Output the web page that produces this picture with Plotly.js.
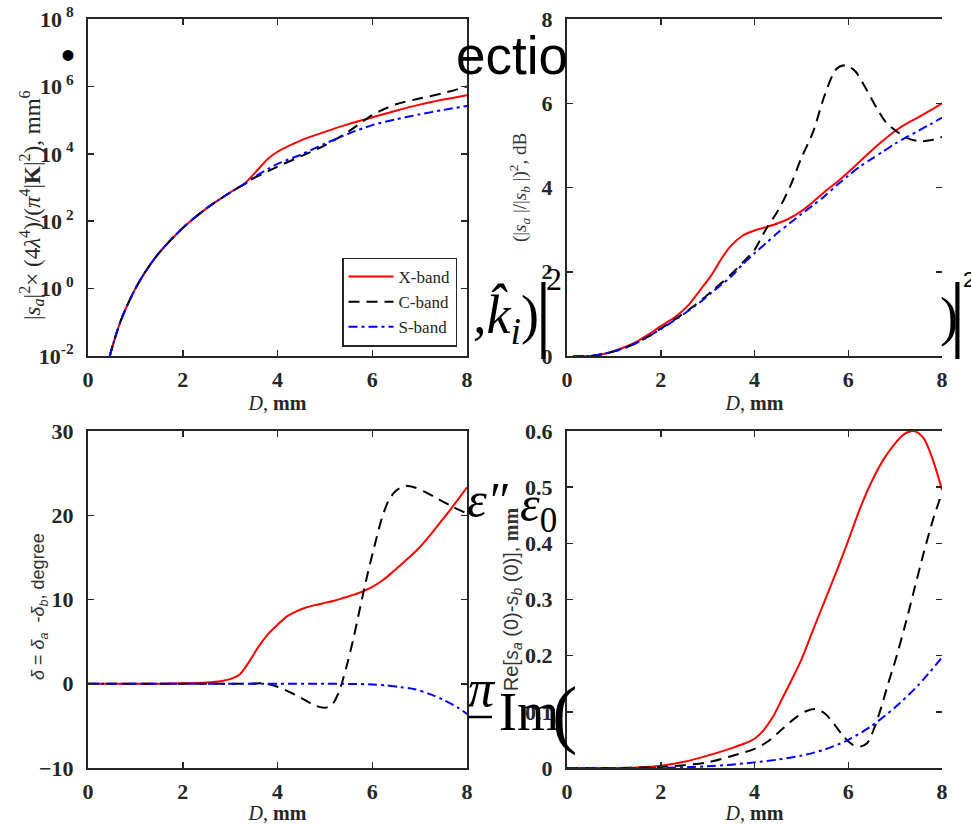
<!DOCTYPE html>
<html><head><meta charset="utf-8">
<script src="https://cdn.plot.ly/plotly-3.0.1.min.js"></script>
<style>html,body{margin:0;padding:0;background:#fff}#chart{width:971px;height:824px}</style>
</head><body><div id="chart"></div>
<script>
// ---------- (a) normalized backscatter magnitude, log scale ----------
const dA = [0.46,0.5,0.6,0.7,0.8,1.0,1.2,1.5,2.0,2.5,3.0,3.3,3.5,3.8,4.0,4.5,5.0,5.5,6.0,6.5,7.0,7.5,8.0];
const yA_X = [0.01,0.016,0.047,0.12,0.26,1.0,3.0,11.5,63,240,710,1300,2500,7100,11500,25100,44700,75900,120000,190500,288000,407000,550000];
const yA_C = [0.01,0.016,0.047,0.12,0.26,1.0,3.0,11.5,63,240,710,1260,1900,3020,4170,8510,17800,45700,141000,295000,437000,631000,1000000];
const yA_S = [0.01,0.016,0.047,0.12,0.26,1.0,3.0,11.5,63,240,710,1260,2000,3550,5010,9550,20000,39800,70800,105000,148000,200000,263000];

// ---------- (b) differential reflectivity, dB ----------
const dB_XS = [0.13,0.5,0.75,1,1.25,1.5,1.75,2,2.3,2.6,2.9,3.1,3.3,3.5,3.75,4.0,4.25,4.5,4.75,5.0,5.25,5.5,5.75,6.0,6.25,6.5,6.75,7.0,7.25,7.5,7.75,8.0];
const yB_X = [0,0,0.04,0.12,0.22,0.35,0.52,0.71,0.92,1.22,1.65,1.95,2.32,2.62,2.86,2.98,3.06,3.15,3.27,3.44,3.66,3.9,4.12,4.36,4.62,4.88,5.12,5.34,5.52,5.67,5.83,6.0];
const yB_S = [0,0,0.04,0.11,0.2,0.32,0.47,0.64,0.85,1.08,1.33,1.52,1.7,1.88,2.18,2.44,2.68,2.93,3.15,3.37,3.58,3.8,4.05,4.28,4.5,4.68,4.86,5.04,5.2,5.35,5.5,5.66];
const dB_C = [0.13,0.5,0.75,1,1.25,1.5,1.75,2,2.3,2.6,2.9,3.1,3.3,3.5,3.75,4.0,4.25,4.5,4.75,5.0,5.25,5.5,5.75,5.95,6.15,6.4,6.6,6.8,7.0,7.25,7.5,7.75,8.0];
const yB_C = [0,0,0.04,0.11,0.2,0.32,0.47,0.65,0.87,1.1,1.36,1.55,1.74,1.94,2.22,2.52,3.02,3.45,4.0,4.7,5.32,6.2,6.82,6.9,6.76,6.3,5.9,5.55,5.36,5.18,5.1,5.12,5.2];

// ---------- (c) backscatter differential phase, degree ----------
const dC_X = [0,0.5,1,1.5,2,2.5,2.8,3.0,3.2,3.4,3.6,3.8,4.0,4.2,4.4,4.6,4.8,5.0,5.2,5.4,5.6,5.8,6.0,6.2,6.4,6.6,6.8,7.0,7.2,7.4,7.6,7.8,8.0];
const yC_X = [0,0,0,0,0.05,0.15,0.3,0.55,1.1,2.6,4.4,5.9,7.0,8.0,8.6,9.05,9.35,9.6,9.85,10.2,10.55,10.95,11.5,12.2,13.1,14.1,15.1,16.2,17.5,18.9,20.3,21.8,23.3];
const dC_C = [0,0.5,1,1.5,2,2.5,3.0,3.4,3.7,4.0,4.3,4.6,4.8,5.0,5.15,5.3,5.45,5.6,5.75,5.9,6.05,6.2,6.35,6.5,6.7,6.9,7.1,7.3,7.5,7.7,8.0];
const yC_C = [0,0,0,0,0,0,0,0,0.05,-0.35,-1.1,-2.0,-2.6,-2.85,-2.5,-0.9,1.9,5.3,9.2,13.0,16.4,19.6,21.8,22.9,23.5,23.3,22.8,22.2,21.6,21.0,20.2];
const dC_S = [0,1,2,3,4,5,5.5,6.0,6.3,6.6,6.9,7.2,7.5,7.8,8.0];
const yC_S = [0,0,0,0,0,0,-0.02,-0.08,-0.2,-0.4,-0.65,-1.2,-1.9,-2.8,-3.6];

// ---------- (d) Re[sa(0)-sb(0)], mm ----------
const dD_X = [0,0.5,1,1.5,2,2.5,3,3.5,3.8,4.0,4.2,4.4,4.6,4.8,5.0,5.25,5.5,5.75,6.0,6.25,6.5,6.75,7.0,7.2,7.4,7.6,7.8,8.0];
const yD_X = [0,0,0,0.001,0.004,0.011,0.022,0.035,0.044,0.052,0.068,0.092,0.125,0.158,0.193,0.246,0.298,0.35,0.405,0.462,0.51,0.549,0.578,0.595,0.6,0.588,0.55,0.495];
const dD_C = [0,1,2,2.5,3,3.5,4.0,4.3,4.6,4.9,5.1,5.3,5.5,5.7,5.9,6.1,6.25,6.4,6.55,6.7,6.85,7.0,7.2,7.4,7.6,7.8,8.0];
const yD_C = [0,0,0.002,0.005,0.01,0.021,0.034,0.048,0.07,0.091,0.101,0.105,0.097,0.078,0.056,0.041,0.038,0.044,0.07,0.107,0.15,0.19,0.25,0.315,0.38,0.44,0.49];
const dD_S = [0,1,2,3,3.5,4.0,4.5,5.0,5.5,6.0,6.5,7.0,7.5,8.0];
const yD_S = [0,0,0,0.003,0.006,0.01,0.015,0.022,0.033,0.05,0.075,0.108,0.148,0.197];

// ---------- ticks / labels ----------
const seriesNames = ['X-band','C-band','S-band'];
const xTicks = [0,2,4,6,8];
const yTicksA = [0.01,1,100,1e4,1e6,1e8];
const yTextA = ['10<sup>-2</sup>','10<sup> 0</sup>','10<sup> 2</sup>','10<sup> 4</sup>','10<sup> 6</sup>','10<sup> 8</sup>'];
const yTicksB = [0,2,4,6,8];
const yTicksC = [-10,0,10,20,30];
const yTicksD = [0,0.1,0.2,0.3,0.4,0.5,0.6];
const yTextD = ['0','0.1','0.2','0.3','0.4','0.5','0.6'];

// ---------- styling ----------
const W = 971, H = 824;
const INK = '#262626';
const SERIF = 'Liberation Serif, Times New Roman, serif';
const SANS = 'Liberation Sans, Arial, sans-serif';
const styles = [
  {color:'#ff0000', width:2, dash:'solid'},
  {color:'#000000', width:2, dash:'11px,7px'},
  {color:'#0000ff', width:2, dash:'9px,4px,3px,4px'}
];
const tickFont = {family: SERIF, size: 22, color: INK, weight: 'bold'};

function tr(x, y, i, xa, ya, legend) {
  return {x, y, type:'scatter', mode:'lines', name: seriesNames[i], xaxis: xa, yaxis: ya,
    line: Object.assign({shape:'spline', smoothing:0.8}, styles[i]), showlegend: !!legend, hoverinfo:'skip'};
}

const data = [
  tr(dA, yA_X, 0, 'x', 'y', true), tr(dA, yA_C, 1, 'x', 'y', true), tr(dA, yA_S, 2, 'x', 'y', true),
  tr(dB_XS, yB_X, 0, 'x2', 'y2'), tr(dB_C, yB_C, 1, 'x2', 'y2'), tr(dB_XS, yB_S, 2, 'x2', 'y2'),
  tr(dC_X, yC_X, 0, 'x3', 'y3'), tr(dC_C, yC_C, 1, 'x3', 'y3'), tr(dC_S, yC_S, 2, 'x3', 'y3'),
  tr(dD_X, yD_X, 0, 'x4', 'y4'), tr(dD_C, yD_C, 1, 'x4', 'y4'), tr(dD_S, yD_S, 2, 'x4', 'y4'),
  {x:[], y:[], xaxis:'x2', yaxis:'y5', type:'scatter', mode:'lines', showlegend:false, hoverinfo:'skip'},
  {x:[], y:[], xaxis:'x4', yaxis:'y6', type:'scatter', mode:'lines', showlegend:false, hoverinfo:'skip'}
];

const colL = [88/W, 467/W], colR = [567/W, 942/W];
const rowT = [1-356/H, 1-19/H], rowB = [1-768/H, 1-431/H];

function common() {
  return {ticks:'inside', ticklen:6, tickwidth:1.5, tickcolor: INK, showline:true, linecolor: INK, linewidth:2,
    showgrid:false, zeroline:false, tickfont: tickFont, automargin:false, fixedrange:true};
}
function xAx(domain, anchor) {
  return Object.assign(common(), {domain, anchor, range:[0,8], tickmode:'array', tickvals: xTicks, mirror:'ticks',
    ticklabelstandoff: 3,
    title:{text:'<i>D</i>, <b>mm</b>', font:{family: SERIF, size:20, color: INK}, standoff: 4}});
}
function yAx(domain, anchor, extra) {
  return Object.assign(common(), {domain, anchor, ticklabelstandoff: 8}, extra);
}
function P(px, py) { return {x: px/W, y: 1-py/H, xref:'paper', yref:'paper', showarrow:false}; }
function note(px, py, text, font, xanchor, extra) {
  return Object.assign(P(px, py), {text, font, xanchor: xanchor || 'center', yanchor:'middle'}, extra || {});
}

const layout = {
  width: W, height: H, margin:{l:0, r:0, t:0, b:0},
  paper_bgcolor:'#ffffff', plot_bgcolor:'#ffffff',
  showlegend: true,
  legend: {x: 457/W, y: 1-302/H, xanchor:'right', yanchor:'middle', bgcolor:'#ffffff', bordercolor: INK, borderwidth:1.5,
    font:{family: SERIF, size:17, color: INK}, tracegroupgap:0, itemwidth:45},
  xaxis: xAx(colL, 'y'),
  xaxis2: xAx(colR, 'y2'),
  xaxis3: xAx(colL, 'y3'),
  xaxis4: xAx(colR, 'y4'),
  yaxis: yAx(rowT, 'x', {type:'log', range:[-2,8], tickmode:'array', tickvals: yTicksA, ticktext: yTextA, mirror:'ticks'}),
  yaxis2: yAx(rowT, 'x2', {range:[0,8], tickmode:'array', tickvals: yTicksB, mirror:false,
    title:{text:'(|<i>s</i><sub><i>a</i></sub> |/|<i>s</i><sub><i>b</i></sub> |)<sup>2</sup>, dB',
      font:{family: SERIF, size:19, color:'#333333'}, standoff: 10}}),
  yaxis5: {overlaying:'y2', side:'right', anchor:'x2', range:[0,8], tickmode:'array', tickvals: yTicksB,
    ticks:'inside', ticklen:6, tickwidth:1.5, tickcolor: INK, showticklabels:false, showline:false, showgrid:false, zeroline:false, fixedrange:true},
  yaxis3: yAx(rowB, 'x3', {range:[-10,30], tickmode:'array', tickvals: yTicksC, mirror:'ticks'}),
  yaxis4: yAx(rowB, 'x4', {range:[0,0.6], tickmode:'array', tickvals: yTicksD, ticktext: yTextD, mirror:false,
    title:{text:'Re[<i>s</i><sub><i>a</i></sub> (0)-<i>s</i><sub><i>b</i></sub> (0)], <span style="font-family:Liberation Serif;font-weight:bold">mm</span>',
      font:{family: SANS, size:20, color:'#333333'}, standoff: 0}}),
  yaxis6: {overlaying:'y4', side:'right', anchor:'x4', range:[0,0.6], tickmode:'array', tickvals: yTicksD,
    ticks:'inside', ticklen:6, tickwidth:1.5, tickcolor: INK, showticklabels:false, showline:false, showgrid:false, zeroline:false, fixedrange:true},
  shapes: [
    {type:'line', xref:'paper', yref:'paper', x0:468/W, x1:492/W, y0:1-717/H, y1:1-717/H, line:{color:'#000', width:2.5}}
  ],
  annotations: [
    // y-axis titles of panels (a) and (c)
    note(31, 205, '|<i>s</i><sub><i>a</i></sub>|<sup>2</sup>× (4<i>λ</i><sup>4</sup>)/(<i>π</i><sup>4</sup>|<b>K</b>|<sup>2</sup>), mm<sup>6</sup>',
      {family: SERIF, size:23, color: INK}, 'center', {textangle:-90}),
    note(39, 607, '<i>δ</i> = <i>δ</i><sub><i>a</i></sub>  -<i>δ</i><sub><i>b</i></sub>, degree',
      {family: SANS, size:18, color:'#333333'}, 'center', {textangle:-90}),
    // fragments of slide text around the panels
    note(68, 55, '•', {family: SANS, size:40, color:'#000'}),
    note(454, 55, 'ectio', {family: SANS, size:53, color:'#000'}, 'left'),
    note(471, 318, '<i>,</i><i>k̂</i><sub><i>i</i></sub>)', {family: SERIF, size:54, color:'#000'}, 'left'),
    note(543, 312, '|', {family: SERIF, size:84, color:'#000'}),
    note(554, 279, '2', {family: SERIF, size:32, color:'#000'}),
    note(949, 317, ')', {family: SERIF, size:54, color:'#000'}),
    note(957, 312, '|', {family: SERIF, size:84, color:'#000'}),
    note(961, 279, '2', {family: SANS, size:22, color:'#000'}, 'left'),
    note(465, 500, '<i>ε″</i>', {family: SERIF, size:50, color:'#000'}, 'left'),
    note(518, 508, '<i>ε</i><sub>0</sub>', {family: SERIF, size:50, color:'#000'}, 'left'),
    note(466, 688, '<i>π</i>', {family: SERIF, size:52, color:'#000'}, 'left'),
    note(497, 712, 'Im', {family: SERIF, size:54, color:'#000'}, 'left'),
    note(564, 713, '(', {family: SERIF, size:76, color:'#000'}, 'center')
  ]
};

Plotly.newPlot('chart', data, layout, {staticPlot:true, displayModeBar:false});
</script></body></html>
